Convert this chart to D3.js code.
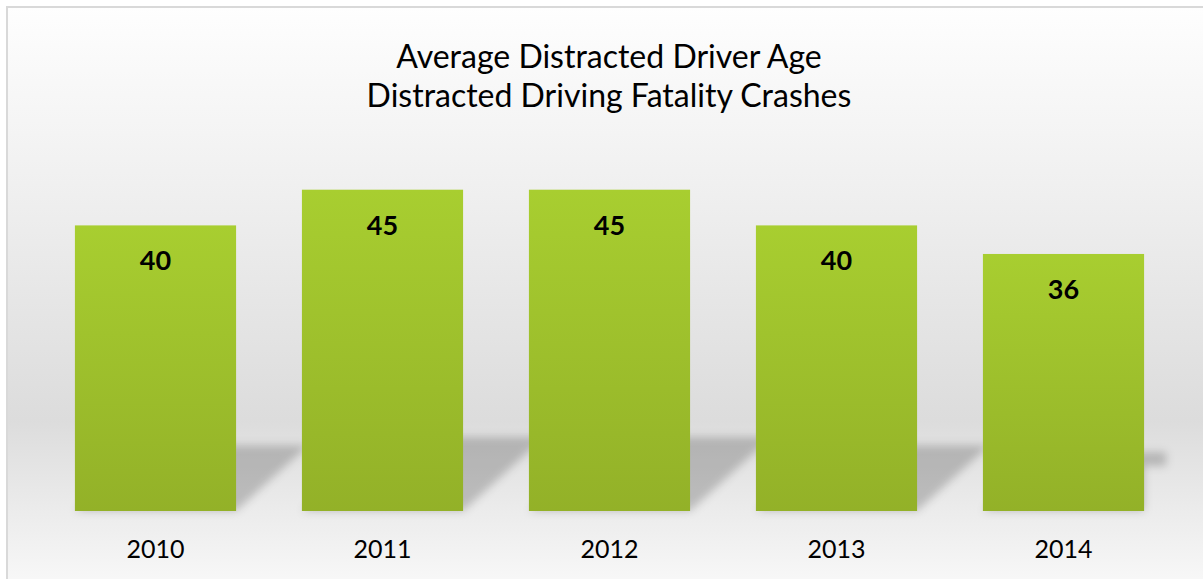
<!DOCTYPE html>
<html>
<head>
<meta charset="utf-8">
<script src="https://cdn.jsdelivr.net/npm/d3@7"></script>
<style>
  html, body { margin: 0; padding: 0; background: #ffffff; }
  svg { display: block; }
</style>
</head>
<body>
<svg id="chart" width="1203" height="579"></svg>
<script>
// Chart content
const titleLines = ["Average Distracted Driver Age", "Distracted Driving Fatality Crashes"];
const years = ["2010", "2011", "2012", "2013", "2014"];
const avgAge = [40, 45, 45, 40, 36];

const W = 1203, H = 579;
const svg = d3.select("#chart");
const defs = svg.append("defs");

// Background: light at top, grey behind the bars, lighter again below them
const bg = defs.append("linearGradient").attr("id", "bgGrad")
  .attr("x1", 0).attr("y1", 0).attr("x2", 0).attr("y2", 1);
[[0, "#fefefe"], [0.3, "#f0f0f0"], [0.7, "#dcdcdc"], [0.88, "#eeeeee"], [1, "#fafafa"]]
  .forEach(([o, c]) => bg.append("stop").attr("offset", o).attr("stop-color", c));

// Bar fill
const barGrad = defs.append("linearGradient").attr("id", "barGrad")
  .attr("x1", 0).attr("y1", 0).attr("x2", 0).attr("y2", 1);
barGrad.append("stop").attr("offset", 0).attr("stop-color", "#a8ce30");
barGrad.append("stop").attr("offset", 1).attr("stop-color", "#93b128");

// Soft edge for the floor shadows
defs.append("filter").attr("id", "shadowBlur")
  .attr("x", "-20%").attr("y", "-20%").attr("width", "140%").attr("height", "140%")
  .append("feGaussianBlur").attr("stdDeviation", 4);

// Chart area with border (runs past the right and bottom edges)
svg.append("rect")
  .attr("x", 7).attr("y", 7).attr("width", W + 10).attr("height", H + 10)
  .attr("fill", "url(#bgGrad)")
  .attr("stroke", "#d9d9d9").attr("stroke-width", 2);

// Scales
const x = d3.scaleBand().domain(years).range([42, 1177])
  .paddingInner(0.29).paddingOuter(0.145);
const y = d3.scaleLinear().domain([0, 50]).range([511, 154]);
const bw = x.bandwidth();
const base = y(0);
const plotRight = x(years[years.length - 1]) + bw;

// Plot-area clip for the shadows, with a little room at the far right near the top
const clip = defs.append("clipPath").attr("id", "plotClip");
clip.append("rect").attr("x", 0).attr("y", 0).attr("width", plotRight).attr("height", base);
clip.append("rect").attr("x", plotRight - 2).attr("y", 0).attr("width", 24).attr("height", base - 45);

// Perspective shadows lying behind each bar
const shadowG = svg.append("g").attr("filter", "url(#shadowBlur)")
  .append("g").attr("clip-path", "url(#plotClip)");
shadowG.selectAll("polygon")
  .data(years.map((yr, i) => ({ yr, v: avgAge[i] })))
  .join("polygon")
  .attr("points", d => {
    const x0 = x(d.yr), x1 = x0 + bw;
    const h = base - y(d.v);
    const top = base - 0.23 * h;
    const dx = 1.1 * (base - top);
    return [[x0, base], [x1, base], [x1 + dx, top], [x0 + dx, top]].map(p => p.join(",")).join(" ");
  })
  .attr("fill", "#000").attr("fill-opacity", 0.2);

// Bars
svg.append("g").selectAll("rect")
  .data(years.map((yr, i) => ({ yr, v: avgAge[i] })))
  .join("rect")
  .attr("x", d => x(d.yr))
  .attr("y", d => y(d.v))
  .attr("width", bw)
  .attr("height", d => base - y(d.v))
  .attr("fill", "url(#barGrad)");

// Value labels inside the bars
svg.append("g").selectAll("text")
  .data(years.map((yr, i) => ({ yr, v: avgAge[i] })))
  .join("text")
  .attr("x", d => x(d.yr) + bw / 2)
  .attr("y", d => y(d.v) + 45)
  .attr("text-anchor", "middle")
  .attr("font-family", "Lato, 'Open Sans', sans-serif")
  .attr("font-weight", "bold")
  .attr("font-size", 27)
  .attr("fill", "#000")
  .text(d => d.v);

// Category axis (labels only)
const xAxis = svg.append("g")
  .attr("transform", `translate(0,${base})`)
  .call(d3.axisBottom(x).tickSize(0).tickPadding(29));
xAxis.select(".domain").remove();
xAxis.selectAll("text")
  .attr("font-family", "Lato, 'Open Sans', sans-serif")
  .attr("font-size", 25)
  .attr("fill", "#000");

// Title
svg.append("g").selectAll("text")
  .data(titleLines)
  .join("text")
  .attr("x", 609)
  .attr("y", (d, i) => 68 + i * 39)
  .attr("text-anchor", "middle")
  .attr("font-family", "Lato, 'Open Sans', sans-serif")
  .attr("font-size", 32)
  .attr("fill", "#000")
  .text(d => d);
</script>
</body>
</html>
